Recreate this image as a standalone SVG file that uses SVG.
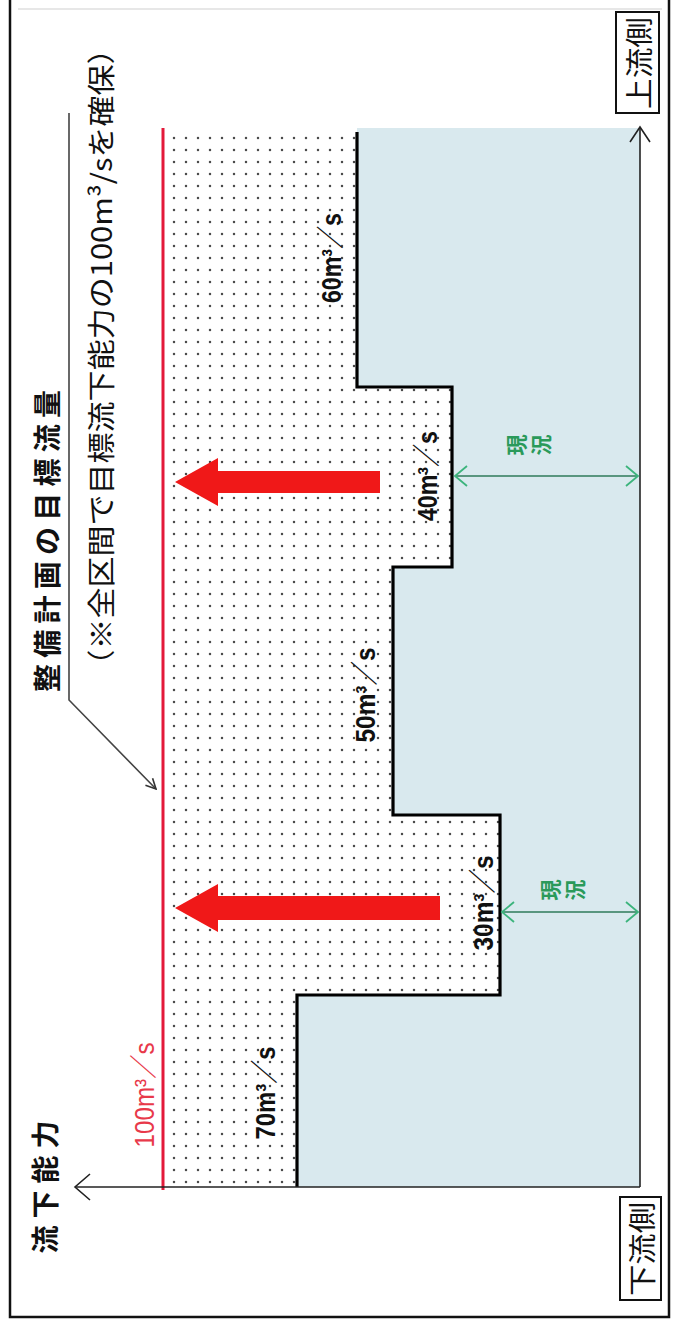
<svg xmlns="http://www.w3.org/2000/svg" width="675" height="1336" viewBox="0 0 675 1336">
<style>
.jp{font-family:"Noto Sans CJK JP","Liberation Sans",sans-serif;fill:#111}
.num{font-family:"Liberation Sans","Noto Sans CJK JP",sans-serif;font-size:28px;fill:#111}
.ax{fill:none;stroke:#222;stroke-width:1.6}
.grn{fill:none;stroke:#2e7a5a;stroke-width:1.6}
.gh{fill:none;stroke:#3cb47c;stroke-width:1.8}
.gt{font-family:"Noto Sans CJK JP",sans-serif;font-size:21px;fill:#2a9a5a;font-weight:bold}
.ra{fill:#f01818}
</style>
<defs>
<pattern id="dots" width="12" height="12" patternUnits="userSpaceOnUse">
<circle cx="6" cy="6" r="1.25" fill="#4a4a4a"/>
</pattern>
<marker id="open" viewBox="0 0 12 12" refX="11" refY="6" markerWidth="12" markerHeight="12" markerUnits="userSpaceOnUse" orient="auto">
<path d="M1,1 L11,6 L1,11" fill="none" stroke="#333" stroke-width="1.6"/>
</marker>
</defs>
<rect x="0" y="0" width="675" height="1336" fill="#fff"/>
<g id="frame">
<path d="M10,0 V1317 H669 V0" fill="none" stroke="#111" stroke-width="2.5"/>
<path d="M18,9 H662" fill="none" stroke="#d0d0d0" stroke-width="1.2"/>
</g>
<g id="current-capacity">
<rect x="163" y="128" width="477" height="1059" fill="#d9e9ee"/>
</g>
<g id="planned-increase">
<polygon points="163,128 357,128 357,387 452,387 452,567 393,567 393,815 500,815 500,995 297,995 297,1187 163,1187" fill="#fff"/>
<polygon points="163,128 357,128 357,387 452,387 452,567 393,567 393,815 500,815 500,995 297,995 297,1187 163,1187" fill="url(#dots)"/>
<path d="M357,132 V387 H452 V567 H393 V815 H500 V995 H297 V1187" fill="none" stroke="#000" stroke-width="3.2"/>
</g>
<g id="target-line">
<path d="M163,128 V1190" fill="none" stroke="#e31a3a" stroke-width="3"/>
<text class="num" transform="translate(144,1095) rotate(-90)" text-anchor="middle" dominant-baseline="central" font-size="24" style="fill:#e8394a" textLength="105" lengthAdjust="spacingAndGlyphs">100m³／s</text>
</g>
<g id="connectors">
<path class="ax" d="M640,1187 H75"/>
<path class="ax" d="M90,1174 L75,1187 L90,1200"/>
<path class="ax" d="M640,1187 V127"/>
<path class="ax" d="M630,142 L640,127 L650,142"/>
<path d="M69,113 V700 L156,789" fill="none" stroke="#444" stroke-width="1.6" marker-end="url(#open)"/>
<path class="grn" d="M455,476 H638"/>
<path class="gh" d="M467,466 L455,476 L467,486 M626,466 L638,476 L626,486"/>
<path class="grn" d="M502,912 H638"/>
<path class="gh" d="M514,902 L502,912 L514,922 M626,902 L638,912 L626,922"/>
<polygon class="ra" points="175,482 218,458 218,471 380,471 380,493 218,493 218,506"/>
<polygon class="ra" points="175,908 218,884 218,896 440,896 440,920 218,920 218,932"/>
</g>
<g id="label-60"><text class="num" font-weight="bold" transform="translate(331,258) rotate(-90)" text-anchor="middle" dominant-baseline="central" textLength="90" lengthAdjust="spacingAndGlyphs">60m³／s</text></g>
<g id="label-40"><text class="num" font-weight="bold" transform="translate(427,476) rotate(-90)" text-anchor="middle" dominant-baseline="central" textLength="90" lengthAdjust="spacingAndGlyphs">40m³／s</text></g>
<g id="label-50"><text class="num" font-weight="bold" transform="translate(365,695) rotate(-90)" text-anchor="middle" dominant-baseline="central" textLength="95" lengthAdjust="spacingAndGlyphs">50m³／s</text></g>
<g id="label-30"><text class="num" font-weight="bold" transform="translate(483,903) rotate(-90)" text-anchor="middle" dominant-baseline="central" textLength="95" lengthAdjust="spacingAndGlyphs">30m³／s</text></g>
<g id="label-70"><text class="num" font-weight="bold" transform="translate(265,1093) rotate(-90)" text-anchor="middle" dominant-baseline="central" textLength="93" lengthAdjust="spacingAndGlyphs">70m³／s</text></g>
<g id="genkyo-1">
<text class="gt" transform="translate(515,445) rotate(-90)" text-anchor="middle" dominant-baseline="central">現</text>
<text class="gt" transform="translate(540,445) rotate(-90)" text-anchor="middle" dominant-baseline="central">況</text>
</g>
<g id="genkyo-2">
<text class="gt" transform="translate(549,890) rotate(-90)" text-anchor="middle" dominant-baseline="central">現</text>
<text class="gt" transform="translate(574,890) rotate(-90)" text-anchor="middle" dominant-baseline="central">況</text>
</g>
<g id="title">
<text class="jp" font-size="28" font-weight="bold" transform="translate(46,541) rotate(-90)" text-anchor="middle" dominant-baseline="central" textLength="302" lengthAdjust="spacing">整備計画の目標流量</text>
</g>
<g id="subtitle">
<text class="jp" font-size="28" transform="translate(100,357) rotate(-90)" text-anchor="middle" dominant-baseline="central" textLength="647" lengthAdjust="spacingAndGlyphs">（※全区間で目標流下能力の100m³/sを確保）</text>
</g>
<g id="axis-label">
<text class="jp" font-size="28" font-weight="bold" transform="translate(44,1187) rotate(-90)" text-anchor="middle" dominant-baseline="central" textLength="133" lengthAdjust="spacing">流下能力</text>
</g>
<g id="upstream">
<rect x="616" y="12" width="43" height="101" fill="#fff" stroke="#111" stroke-width="2"/>
<text class="jp" font-size="28" transform="translate(638,63) rotate(-90)" text-anchor="middle" dominant-baseline="central" textLength="92" lengthAdjust="spacingAndGlyphs">上流側</text>
</g>
<g id="downstream">
<rect x="620" y="1197" width="41" height="103" fill="#fff" stroke="#111" stroke-width="2"/>
<text class="jp" font-size="28" transform="translate(641,1249) rotate(-90)" text-anchor="middle" dominant-baseline="central" textLength="94" lengthAdjust="spacingAndGlyphs">下流側</text>
</g>
</svg>
